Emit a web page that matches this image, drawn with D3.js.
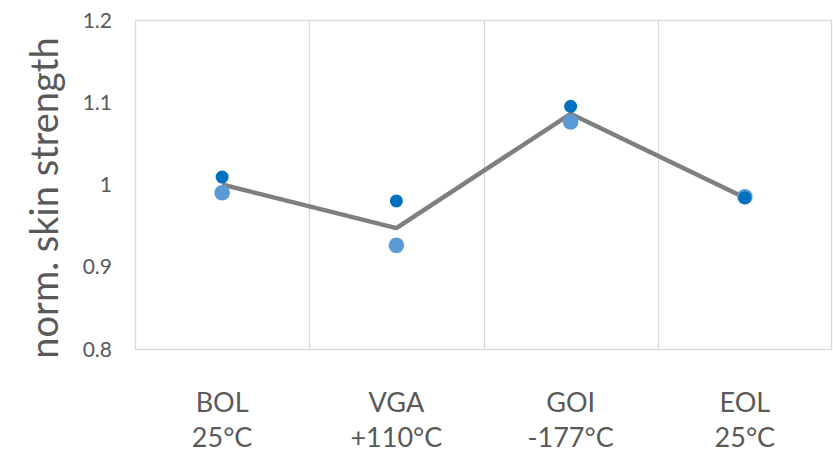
<!DOCTYPE html>
<html>
<head>
<meta charset="utf-8">
<script src="https://cdn.jsdelivr.net/npm/d3@7"></script>
<style>
  html, body { margin: 0; padding: 0; background: #ffffff; }
  svg { display: block; }
</style>
</head>
<body>
<svg id="chart" width="833" height="465"></svg>
<script>
// Test phases and their temperatures
const phases = ["BOL", "VGA", "GOI", "EOL"];
const temperatures = ["25°C", "+110°C", "-177°C", "25°C"];

// Normalised skin strength per specimen and the mean trend
const specimenA = [1.009, 0.980, 1.095, 0.984];
const specimenB = [0.990, 0.926, 1.076, 0.985];
const meanTrend = [1.000, 0.947, 1.086, 0.984];

// Y axis ticks
const yTicks = [0.8, 0.9, 1.0, 1.1, 1.2];
const yTickLabels = ["0.8", "0.9", "1", "1.1", "1.2"];

const fontFamily = "Lato, 'Open Sans', sans-serif";
const textColor = "#595959";
const gridColor = "#d9d9d9";

const margin = { left: 135, right: 1, top: 20, bottom: 116 };
const W = 833, H = 465;

const svg = d3.select("#chart");

const x = d3.scaleBand()
  .domain(phases)
  .range([margin.left, W - margin.right])
  .padding(0);

const y = d3.scaleLinear()
  .domain([0.8, 1.2])
  .range([H - margin.bottom, margin.top]);

// Plot frame and vertical separators between phases
const grid = svg.append("g");
grid.append("rect")
  .attr("x", x.range()[0] + 0.5)
  .attr("y", y(1.2) + 0.5)
  .attr("width", x.range()[1] - x.range()[0] - 1)
  .attr("height", y(0.8) - y(1.2))
  .attr("fill", "none")
  .attr("stroke", gridColor)
  .attr("stroke-width", 1.3);

grid.selectAll("line.sep")
  .data(phases.slice(1))
  .join("line")
  .attr("class", "sep")
  .attr("x1", d => Math.round(x(d)) + 0.5)
  .attr("x2", d => Math.round(x(d)) + 0.5)
  .attr("y1", y(1.2))
  .attr("y2", y(0.8))
  .attr("stroke", gridColor)
  .attr("stroke-width", 1.3);

// Y axis labels
const yAxis = d3.axisLeft(y)
  .tickValues(yTicks)
  .tickFormat((d, i) => yTickLabels[i])
  .tickSize(0)
  .tickPadding(0);

const yG = svg.append("g")
  .attr("transform", `translate(${margin.left - 23},0)`)
  .call(yAxis);
yG.select(".domain").remove();
yG.selectAll("text")
  .attr("fill", textColor)
  .attr("font-family", fontFamily)
  .attr("font-size", 21)
  .attr("dy", "0.34em");

// Y axis title
svg.append("text")
  .attr("transform", `translate(58,198) rotate(-90)`)
  .attr("text-anchor", "middle")
  .attr("fill", textColor)
  .attr("font-family", fontFamily)
  .attr("font-size", 38)
  .text("norm. skin strength");

// Category labels, two lines each
const xG = svg.append("g");
const catLabels = xG.selectAll("text.cat")
  .data(phases)
  .join("text")
  .attr("class", "cat")
  .attr("text-anchor", "middle")
  .attr("fill", textColor)
  .attr("font-family", fontFamily)
  .attr("font-size", 27);
catLabels.append("tspan")
  .attr("x", d => x(d) + x.bandwidth() / 2)
  .attr("y", 412)
  .text(d => d);
catLabels.append("tspan")
  .attr("x", d => x(d) + x.bandwidth() / 2)
  .attr("y", 447)
  .text((d, i) => temperatures[i]);

const cx = d => x(d) + x.bandwidth() / 2;

// Mean trend line
const line = d3.line()
  .x((d, i) => cx(phases[i]))
  .y(d => y(d));

svg.append("path")
  .datum(meanTrend)
  .attr("d", line)
  .attr("fill", "none")
  .attr("stroke", "#7f7f7f")
  .attr("stroke-width", 4.5)
  .attr("stroke-linejoin", "round");

// Specimen markers
svg.append("g").selectAll("circle")
  .data(specimenB)
  .join("circle")
  .attr("cx", (d, i) => cx(phases[i]))
  .attr("cy", d => y(d))
  .attr("r", 7.8)
  .attr("fill", "#5b9bd5");

svg.append("g").selectAll("circle")
  .data(specimenA)
  .join("circle")
  .attr("cx", (d, i) => cx(phases[i]))
  .attr("cy", d => y(d))
  .attr("r", 6.5)
  .attr("fill", "#0070c0");
</script>
</body>
</html>
